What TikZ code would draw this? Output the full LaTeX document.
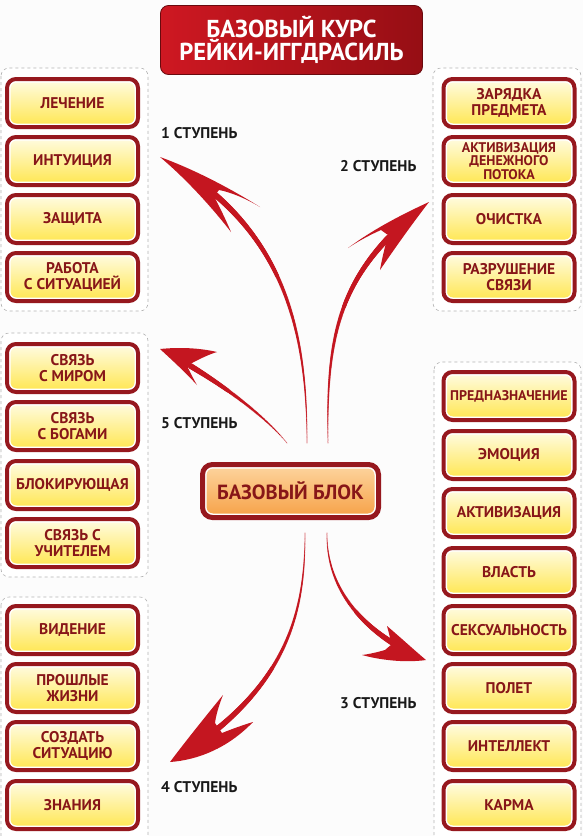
\documentclass[tikz,border=0pt]{standalone}
\usepackage{fontspec}
\setmainfont{PT Sans}
\usetikzlibrary{decorations.markings}
\definecolor{boxred}{RGB}{150,24,30}
\definecolor{txtred}{RGB}{135,22,24}
\definecolor{arrred}{RGB}{196,22,32}
\definecolor{yelTop}{RGB}{255,252,228}
\definecolor{yelBot}{RGB}{255,230,78}
\definecolor{orTop}{RGB}{253,214,160}
\definecolor{orBot}{RGB}{246,160,70}
\definecolor{titL}{RGB}{206,24,34}
\definecolor{titR}{RGB}{150,14,20}
\definecolor{panelgray}{RGB}{180,180,180}
\definecolor{bggray}{RGB}{252,252,252}
\tikzset{
  item/.style={rounded corners=9pt, minimum width=131pt, minimum height=48pt,
    draw=boxred, line width=4pt, top color=yelTop, bottom color=yelBot,
    text=txtred, font=\bfseries\fontsize{15.5}{15.5}\selectfont, align=center, inner sep=2pt,
    path picture={\draw[white, line width=7pt, rounded corners=9pt]
      (path picture bounding box.south west) rectangle (path picture bounding box.north east);}},
  panel/.style={draw=panelgray, dashed, line width=0.6pt, rounded corners=8pt, fill=white},
  steplbl/.style={anchor=west, inner sep=0pt, font=\bfseries\fontsize{15.5}{15.5}\selectfont, text=black!90},
  taper/.style={decorate, decoration={markings,
    mark=between positions 0 and #1 step 0.8pt with {%
      \pgfmathsetmacro\tr{0.35+3.3*\pgfkeysvalueof{/pgf/decoration/mark info/distance from start}/\pgfdecoratedpathlength}%
      \fill[arrred] (0,0) circle[radius=\tr pt];}}},
  arrowhead/.style={fill=arrred},
}
\begin{document}
\begin{tikzpicture}[x=1pt, y=-1pt]
\useasboundingbox (0,0) rectangle (583,836);
\fill[bggray] (0,0) rectangle (583,836);
% panels
\draw[panel] (1,68) rectangle (148,311);
\draw[panel] (1,333) rectangle (148,577);
\draw[panel] (1,597) rectangle (148,845);
\draw[panel] (433,68) rectangle (581,311);
\draw[panel] (434,362) rectangle (581,845);
% title
\node[rounded corners=8pt, minimum width=262pt, minimum height=69pt, left color=titL, right color=titR,
  draw=titR!70!black, line width=0.8pt, text=white, align=center,
  font=\bfseries\fontsize{24.5}{23}\selectfont] (title) at (291.5,40) {БАЗОВЫЙ КУРС\\РЕЙКИ-ИГГДРАСИЛЬ};
% left group 1
\node[item] (l1) at (72.5,103) {ЛЕЧЕНИЕ};
\node[item] (l2) at (72.5,161) {ИНТУИЦИЯ};
\node[item] (l3) at (72.5,219) {ЗАЩИТА};
\node[item] (l4) at (72.5,277) {РАБОТА\\С СИТУАЦИЕЙ};
% right group 2
\node[item] (r1) at (509,103) {ЗАРЯДКА\\ПРЕДМЕТА};
\node[item, font=\bfseries\fontsize{14}{13.5}\selectfont] (r2) at (509,161) {АКТИВИЗАЦИЯ\\ДЕНЕЖНОГО\\ПОТОКА};
\node[item] (r3) at (509,219) {ОЧИСТКА};
\node[item] (r4) at (509,277) {РАЗРУШЕНИЕ\\СВЯЗИ};
% left group 5
\node[item] (f1) at (72.5,368) {СВЯЗЬ\\С МИРОМ};
\node[item] (f2) at (72.5,426) {СВЯЗЬ\\С БОГАМИ};
\node[item] (f3) at (72.5,485) {БЛОКИРУЮЩАЯ};
\node[item] (f4) at (72.5,543) {СВЯЗЬ С\\УЧИТЕЛЕМ};
% left group 4
\node[item] (v1) at (72.5,630) {ВИДЕНИЕ};
\node[item] (v2) at (72.5,688) {ПРОШЛЫЕ\\ЖИЗНИ};
\node[item] (v3) at (72.5,746) {СОЗДАТЬ\\СИТУАЦИЮ};
\node[item] (v4) at (72.5,805) {ЗНАНИЯ};
% right group 3
\node[item, font=\bfseries\fontsize{14}{14}\selectfont] (t1) at (509,396) {ПРЕДНАЗНАЧЕНИЕ};
\node[item] (t2) at (509,455) {ЭМОЦИЯ};
\node[item] (t3) at (509,513) {АКТИВИЗАЦИЯ};
\node[item] (t4) at (509,572) {ВЛАСТЬ};
\node[item] (t5) at (509,630) {СЕКСУАЛЬНОСТЬ};
\node[item] (t6) at (509,688) {ПОЛЕТ};
\node[item] (t7) at (509,746) {ИНТЕЛЛЕКТ};
\node[item] (t8) at (509,805) {КАРМА};
% center
\node[rounded corners=10pt, minimum width=176pt, minimum height=53pt, draw=boxred, line width=5pt,
  top color=orTop, bottom color=orBot, text=txtred, font=\bfseries\fontsize{20.5}{21}\selectfont,
  path picture={\draw[white, line width=8pt, rounded corners=10pt]
    (path picture bounding box.south west) rectangle (path picture bounding box.north east);}]
  (base) at (290.5,491) {БАЗОВЫЙ БЛОК};
% step labels
\node[steplbl] (s1) at (161,133) {1 СТУПЕНЬ};
\node[steplbl] (s2) at (340,166) {2 СТУПЕНЬ};
\node[steplbl] (s5) at (161,423) {5 СТУПЕНЬ};
\node[steplbl] (s3) at (340,703) {3 СТУПЕНЬ};
\node[steplbl] (s4) at (161,787) {4 СТУПЕНЬ};
% arrow end points
\coordinate (a1) at (307,443); \coordinate (h1) at (160,157);
\coordinate (a2) at (328,443); \coordinate (h2) at (429,202);
\coordinate (a5) at (287,443); \coordinate (h5) at (160,349);
\coordinate (a3) at (327,533); \coordinate (h3) at (426,660);
\coordinate (a4) at (305,533); \coordinate (h4) at (170,762);
% arrow 1 (to 1 СТУПЕНЬ)
\path[taper=0.8] (a1) .. controls (307,330) and (285,225) .. (h1);
\fill[arrowhead] (h1) .. controls (193,169) and (228,187) .. (260,207)
  .. controls (245,198) and (230,192) .. (219,190) -- (214,196)
  .. controls (220,208) and (226,220) .. (231,232)
  .. controls (210,205) and (185,178) .. (h1);
% arrow 2 (to 2 СТУПЕНЬ)
\path[taper=0.8] (a2) .. controls (326,330) and (340,270) .. (h2);
\fill[arrowhead] (h2) .. controls (405,213) and (375,228) .. (348,248)
  .. controls (360,240) and (372,234) .. (381,230) -- (388,235)
  .. controls (385,247) and (382,258) .. (380,270)
  .. controls (395,248) and (412,224) .. (h2);
% arrow 5 (to 5 СТУПЕНЬ)
\path[taper=0.78] (a5) .. controls (260,410) and (205,372) .. (h5);
\fill[arrowhead] (h5) .. controls (180,347) and (200,348) .. (217,352)
  .. controls (207,355) and (198,360) .. (192,363) -- (188,368)
  .. controls (191,374) and (194,380) .. (197,385)
  .. controls (185,372) and (172,360) .. (h5);
% arrow 3 (to 3 СТУПЕНЬ)
\path[taper=0.78] (a3) .. controls (326,590) and (365,635) .. (h3);
\fill[arrowhead] (h3) .. controls (413,649) and (400,637) .. (387,626)
  .. controls (389,633) and (390,639) .. (392,644) -- (385,650)
  .. controls (378,652) and (370,654) .. (362,655)
  .. controls (380,660) and (405,663) .. (h3);
% arrow 4 (to 4 СТУПЕНЬ)
\path[taper=0.8] (a4) .. controls (305,610) and (290,690) .. (h4);
\fill[arrowhead] (h4) .. controls (185,742) and (205,717) .. (223,695)
  .. controls (219,705) and (216,715) .. (215,723) -- (222,733)
  .. controls (232,729) and (243,725) .. (253,722)
  .. controls (228,748) and (198,760) .. (h4);
\end{tikzpicture}
\end{document}
